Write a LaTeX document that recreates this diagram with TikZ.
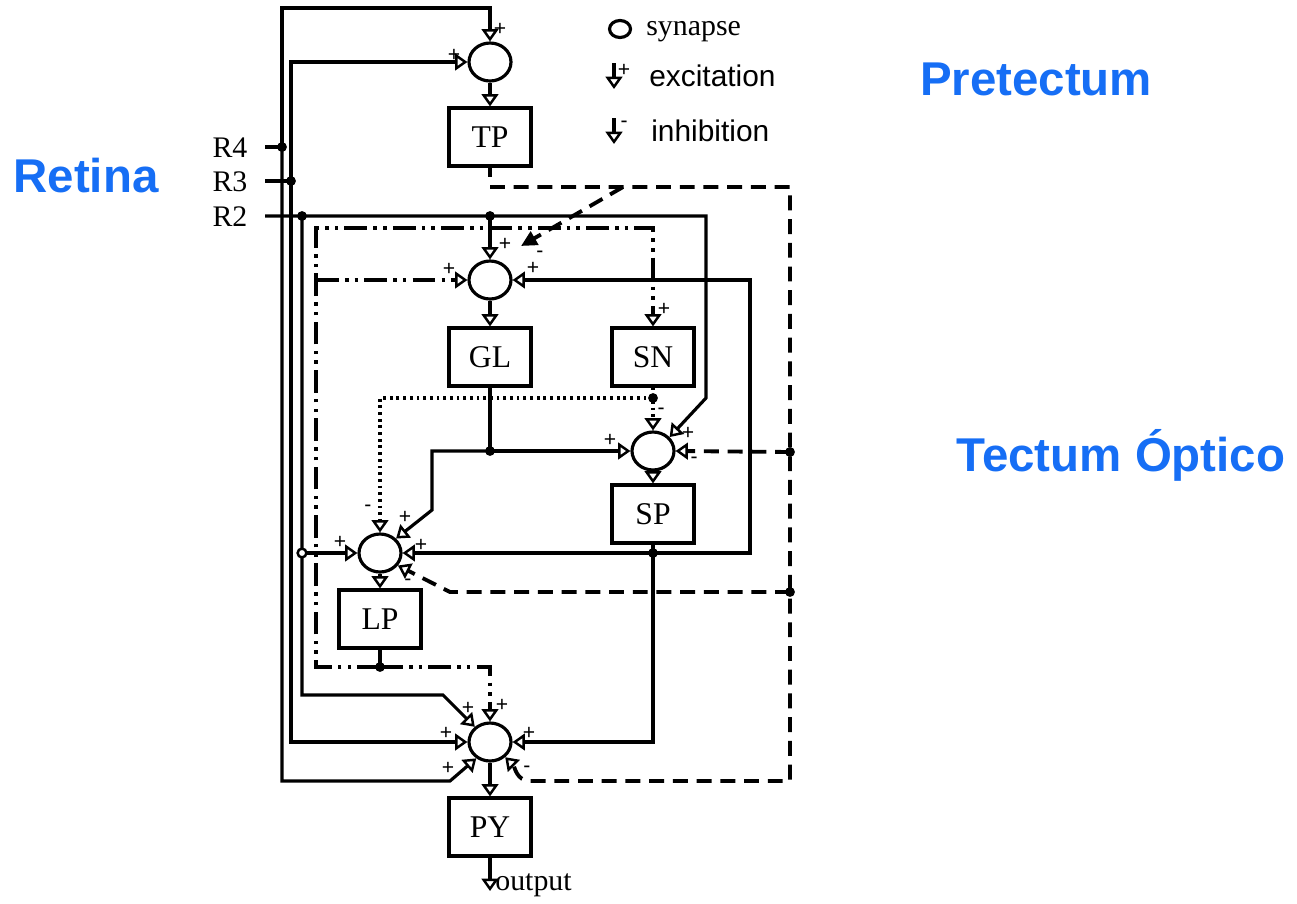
\documentclass[tikz,border=0pt]{standalone}
\usepackage{fontspec}
\setmainfont{Liberation Serif}
\newfontfamily\arialf{Liberation Sans}
\usetikzlibrary{arrows.meta,shapes.geometric}
\definecolor{lblue}{RGB}{22,110,245}
\begin{document}
\begin{tikzpicture}[x=0.02cm,y=-0.02cm,
 ln/.style={line width=1.8pt},
 syn/.style={ellipse,draw,line width=1.8pt,minimum width=0.84cm,minimum height=0.76cm,inner sep=0pt},
 blk/.style={rectangle,draw,line width=1.8pt,minimum width=1.64cm,minimum height=1.16cm,inner sep=0pt,font=\fontsize{18}{20}\selectfont},
 rl/.style={inner sep=0pt,font=\fontsize{17}{20}\selectfont},
 ex/.style={-{Triangle[length=7pt,width=9.5pt,fill=white,line width=1.4pt]}},
 dsh/.style={line width=2.2pt,dash pattern=on 8.5pt off 5pt},
 ddd/.style={line width=2.2pt,dash pattern=on 13pt off 3.5pt on 2pt off 3.5pt on 2pt off 3.5pt},
 dtt/.style={line width=1.9pt,dash pattern=on 1.6pt off 2.2pt},
 pm/.style={inner sep=0pt,font=\arialf\fontsize{12}{12}\selectfont},
 big/.style={inner sep=0pt,text=lblue,font=\arialf\bfseries\fontsize{27}{30}\selectfont},
 leg/.style={inner sep=0pt,anchor=west,font=\fontsize{17}{20}\selectfont},
 legs/.style={inner sep=0pt,anchor=west,font=\arialf\fontsize{17}{20}\selectfont}
]
\useasboundingbox (0,0) rectangle (1297,903);

% region titles
\node[big] (ret) at (86,176) {Retina};
\node[big] (pre) at (1036,79) {Pretectum};
\node[big] (tec) at (1121,455) {Tectum Óptico};

% legend
\node[ellipse,draw,line width=1.8pt,minimum width=0.42cm,minimum height=0.34cm,inner sep=0pt] (lsyn) at (620,29) {};
\node[leg] (lsynt) at (646,32) {synapse};
\coordinate (le1) at (614,63);
\coordinate (le2) at (614,89);
\draw[ln,ex] (le1) -- (le2);
\node[pm] (lep) at (624,70) {+};
\node[legs] (lext) at (649,76) {excitation};
\coordinate (li1) at (614,118);
\coordinate (li2) at (614,144);
\draw[ln,ex] (li1) -- (li2);
\node[pm] (lim) at (624,124) {-};
\node[legs] (linh) at (651,131) {inhibition};

% synapses and blocks
\node[syn] (sTP) at (490,62) {};
\node[blk] (tp) at (490,137) {TP};
\node[syn] (sGL) at (490,280) {};
\node[blk] (gl) at (490,357) {GL};
\node[blk] (sn) at (653,357) {SN};
\node[syn] (sSP) at (653,451) {};
\node[blk] (sp) at (653,514) {SP};
\node[syn] (sLP) at (380,553) {};
\node[blk] (lp) at (380,619) {LP};
\node[syn] (sPY) at (490,742) {};
\node[blk] (py) at (490,827) {PY};

% retina inputs
\node[rl] (r4) at (230,148) {R4};
\node[rl] (r3) at (230,182) {R3};
\node[rl] (r2) at (230,217) {R2};
\coordinate (r4s) at (265,147);
\coordinate (j4) at (282,147);
\coordinate (r3s) at (265,181);
\coordinate (j3) at (291,181);
\coordinate (r2s) at (265,216);
\coordinate (j2) at (302,216);
\coordinate (j2b) at (490,216);
\coordinate (jo) at (302,553);
\coordinate (jlp) at (380,667);
\coordinate (jgl) at (490,451);
\coordinate (jsp) at (653,553);
\coordinate (jsn) at (653,398);
\coordinate (jt1) at (790,452);
\coordinate (jt2) at (790,592);
\coordinate (tpb) at (623,187);
\coordinate (tipd) at (521,246);
\coordinate (outp) at (490,891);

% R4
\draw[ln] (r4s) -- (j4);
\draw[ln,ex] (j4) -- (282,8) -- (sTP.north |- 0,8) -- (sTP.north);
\draw[ln,ex] (j4) -- (282,781) -- (450,781) -- (sPY.230);
% R3
\draw[ln] (r3s) -- (j3);
\draw[ln,ex] (j3) -- (291,62) -- (sTP.west);
\draw[ln,ex] (j3) -- (291,742) -- (sPY.west);
% R2
\draw[ln,ex] (r2s) -- (706,216) -- (706,398) -- (sSP.40);
\draw[ln,ex] (j2b) -- (sGL.north);
\draw[ln,ex] (j2) -- (302,695) -- (443,695) -- (sPY.135);
\draw[ln,ex] (jo) -- (sLP.west);

% TP
\draw[ln,ex] (sTP.south) -- (tp.north);
\draw[ln] (tp.south) -- (490,177);
\draw[ln,dsh,ex] (490,187) -- (790,187) -- (790,781) -- (530,781) to[out=180,in=-45] (sPY.-45);
\draw[ln,dsh,ex] (jt1) -- (sSP.east);
\draw[ln,dsh,ex] (jt2) -- (450,592) -- (sLP.-35);
\draw[ln,dsh,-{Triangle[length=9pt,width=8.5pt]}] (tpb) -- (tipd);

% GL
\draw[ln,ex] (sGL.south) -- (gl.north);
\draw[ln] (gl.south) -- (jgl);
\draw[ln,ex] (jgl) -- (sSP.west);
\draw[ln,ex] (jgl) -- (432,451) -- (432,510) -- (sLP.42);

% SN
\draw[ln,dtt,ex] (sn.south) -- (sSP.north);
\draw[ln,dtt,ex] (jsn) -- (380,398) -- (sLP.north);

% SP
\draw[ln,ex] (sSP.south) -- (sp.north);
\draw[ln] (sp.south) -- (jsp);
\draw[ln,ex] (jsp) -- (sLP.east);
\draw[ln,ex] (jsp) -- (750,553) -- (750,280) -- (sGL.east);
\draw[ln,ex] (jsp) -- (653,742) -- (sPY.east);

% LP
\draw[ln,ex] (sLP.south) -- (lp.north);
\draw[ln] (lp.south) -- (jlp);
\draw[ln,ddd,ex] (jlp) -- (316,667) -- (316,228) -- (sn.north |- 0,228) -- (sn.north);
\draw[ln,ddd,ex] (316,280) -- (sGL.west);
\draw[ln,ddd,ex] (jlp) -- (490,667) -- (sPY.north);

% PY
\draw[ln,ex] (sPY.south) -- (py.north);
\draw[ln,ex] (py.south) -- (outp);
\node[leg] (outt) at (495,885) {output};

% junction dots
\foreach \p in {j4,j3,j2,j2b,jlp,jgl,jsp,jsn,jt1,jt2}{\fill (\p) circle (2.8pt);}
\filldraw[fill=white,line width=1.4pt] (jo) circle (2.5pt);

% signs
\node[pm] (a1) at (500,29) {+};
\node[pm] (a2) at (454,55) {+};
\node[pm] (a3) at (505,244) {+};
\node[pm] (a4) at (449,269) {+};
\node[pm] (a5) at (540,254) {-};
\node[pm] (a6) at (533,268) {+};
\node[pm] (a7) at (664,309) {+};
\node[pm] (a8) at (661,411) {-};
\node[pm] (a9) at (688,433) {+};
\node[pm] (a10) at (610,440) {+};
\node[pm] (a11) at (694,460) {-};
\node[pm] (a12) at (368,508) {-};
\node[pm] (a13) at (405,517) {+};
\node[pm] (a14) at (340,542) {+};
\node[pm] (a15) at (421,545) {+};
\node[pm] (a16) at (408,582) {-};
\node[pm] (a17) at (468,708) {+};
\node[pm] (a18) at (502,705) {+};
\node[pm] (a19) at (446,733) {+};
\node[pm] (a20) at (529,733) {+};
\node[pm] (a21) at (448,768) {+};
\node[pm] (a22) at (527,769) {-};
\end{tikzpicture}
\end{document}
